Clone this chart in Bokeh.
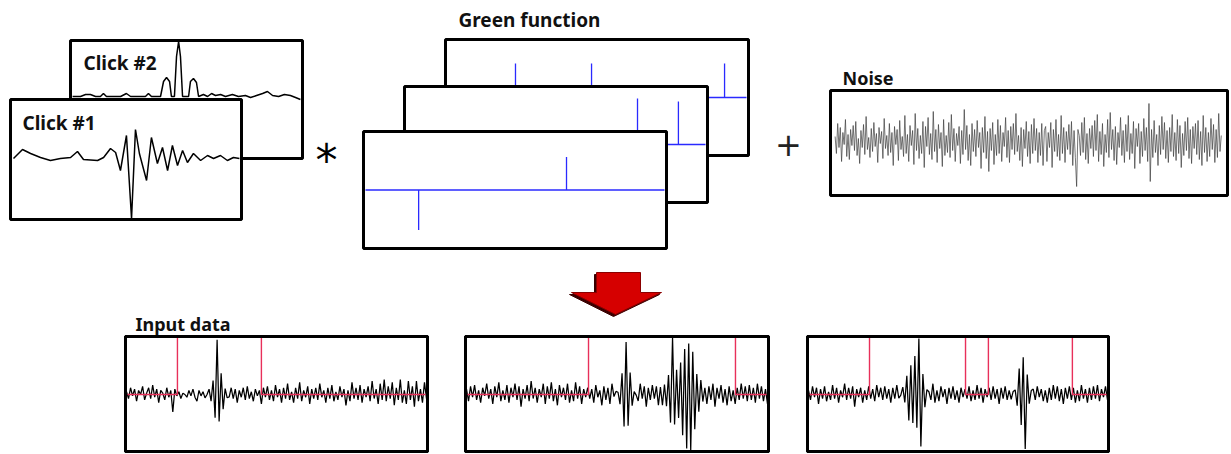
import numpy as np
from bokeh.plotting import figure
from bokeh.models import Range1d
from bokeh.embed import file_html
from bokeh.resources import INLINE
from bokeh.core.properties import value

# ---------------- data ----------------
# Click #1 waveform: time (fraction of window) and amplitude
click1_t = [0.013, 0.052, 0.087, 0.130, 0.173, 0.216, 0.260, 0.290, 0.316, 0.377, 0.403, 0.433,
            0.455, 0.476, 0.502, 0.524, 0.541, 0.558, 0.589, 0.610, 0.636, 0.658, 0.680, 0.701,
            0.723, 0.745, 0.766, 0.792, 0.823, 0.853, 0.879, 0.909, 0.939, 0.965, 0.991]
click1_v = [-1, 8, 4, 0, -3, -1, 0, 6, -2, -3, 0, 9, 5, -13, 22, -62, 28, 4, -23, 20, -6, 10, -13,
            12, -8, 7, -5, 4, -3, 2, -1, 2, -3, 0, -1]

# Click #2 waveform
click2_t = [0.009, 0.043, 0.065, 0.086, 0.108, 0.129, 0.142, 0.155, 0.216, 0.241, 0.259, 0.323,
            0.336, 0.349, 0.388, 0.401, 0.414, 0.427, 0.435, 0.448, 0.457, 0.466, 0.474, 0.483,
            0.509, 0.517, 0.530, 0.543, 0.552, 0.573, 0.591, 0.608, 0.625, 0.647, 0.668, 0.698,
            0.724, 0.754, 0.776, 0.802, 0.828, 0.849, 0.871, 0.897, 0.922, 0.948, 0.970, 0.991]
click2_v = [0, 0, 2, 2, 0, 0, 3, 0, 0, 3, 0, 0, 3, 0, 0, 15, 19, 15, 0, 0, 40, 57, 40, 0,
            0, 15, 18, 14, 0, 2, 0, 3, 1, 2, 0, 2, 0, 1, -1, 1, 3, 5, 1, 0, 2, 1, -1, -3]

# Green functions (three receivers): arrival time (fraction) and amplitude
gf_back_t = [0.231, 0.482, 0.921]
gf_back_a = [34, 34, 34]
gf_mid_t = [0.769, 0.904]
gf_mid_a = [46, 43]
gf_front_t = [0.182, 0.670]
gf_front_a = [-40, 33]

# Noise record
noise = [5, -12, 18, -6, 14, -20, 9, -3, 22, -15, 7, -18, 12, -4, 16, -9, 20, -14, 3, -22,
         11, -6, 17, -13, 25, -8, 4, -16, 13, -10, 19, -5, 8, -21, 14, -2, 10, -17, 23, -7,
         6, -14, 18, -11, 9, -24, 15, -3, 12, -19, 21, -8, 5, -15, 26, -12, 7, -20, 16, -4,
         11, -23, 28, -9, 13, -17, 6, -12, 20, -26, 15, -5, 24, -13, 8, -18, 30, -10, 12, -21,
         17, -7, 9, -25, 22, -14, 6, -11, 19, -16, 27, -9, 13, -20, 8, -4, 15, -22, 11, -13,
         32, -8, 16, -19, 7, -24, 18, -10, 12, -15, 21, -6, 9, -27, 14, -11, 25, -17, 10, -30,
         13, -9, 19, -23, 7, -14, 22, -12, 16, -20, 9, -5, 24, -16, 11, -21, 15, -8, 18, -13,
         28, -10, 6, -19, 14, -25, 12, -7, 20, -15, 10, -22, 17, -12, 23, -9, 13, -21, 9, -14,
         18, -24, 11, 15, -20, 9, -6, 19, -26, 12, -10, 22, -15, 7, -19, 26, -12, 14, -21, 10,
         -8, 17, -13, 20, -24, 11, -16, -45, 12, 6, -14, 19, -11, 24, -18, 8, -22, 13, -7, 16,
         -15, 21, -9, 27, -20, 10, -13, 18, -25, 7, -11, 22, -16, 29, -8, 12, -19, 15, -23, 9,
         -6, 24, -14, 11, -21, 17, -10, 26, -18, 8, -12, 20, -27, 13, -5, 18, -22, 10, -15, 23,
         -9, 14, -20, 38, -40, 12, -16, 21, -11, 7, -24, 16, -13, 25, -8, 19, -17, 11, -21, 14,
         -10, 27, -15, 9, -19, 22, -12, 16, -26, 8, -14, 20, -9, 24, -17, 12, -22, 15, -7, 18,
         -13, 21, -18, 10, -24, 26, -11, 14, -20, 9, -15, 23, -8, 17, -21, 12, -16, 28, -10, 6]

# Input data: background noise, click bursts (start sample) and detection gates
in1_noise = [2, -3, 5, -1, 4, -5, 3, 0, 6, -4, 1, 5, -3, 7, -2, 4, -6, 3, 1, -4,
             5, -2, 3, -13, 4, -1, 2, -3, 1, 0, -2, 3, -1, 4, -2, -5, 3, -1, 2, -4,
             3, -2, 4, -3, 2, -1, 3, -2, 1, -3, 2, -4, 5, -3, 4, -6, 3, -2, 5, -4,
             6, -3, 2, -5, 4, -1, 3, -7, 5, -2, 6, -4, 3, -5, 7, -2, 4, -6, 5, -3,
             8, -4, 2, -6, 5, -3, 9, -5, 3, -2, 6, -7, 4, -3, 5, -4, 8, -2, 3, -6,
             5, -3, 7, -5, 2, -4, 6, -2, 4, -8, 3, -5, 9, -3, 5, -4, 7, -6, 4, -2,
             6, -5, 10, -3, 4, -7, 8, -4, 11, -5, 6, -3, 9, -8, 5, -4, 11, -6, 3, -7,
             10, -4, 6, -9, 10, -5, 4, -6, 9, -3]
in1_bursts = [[2, -4, 8, -12, 18, -26, 56, -31, 24, -16, 10, -6, 3]]
in1_starts = [39]
in1_gates = [[0.172, 0.450]]

in2_noise = [4, -5, 6, -2, 7, -4, 3, -6, 5, -1, 8, -3, 4, -7, 6, -2, 9, -5, 3, -4,
             7, -6, 5, -2, 8, -4, 6, -9, 4, -3, 7, -5, 10, -3, 5, -6, 4, -2, 8, -7,
             6, -3, 9, -5, 4, -8, 7, -2, 5, -4, 8, -6, 3, -5, 9, -3, 6, -7, 4, -2,
             5, -3, 4, -6, 7, -2, 3, -8, 6, -4, 5, -7, 8, -3, 6, -5, 4, -2, 3, -4,
             2, -3, 5, -6, 4, -7, 8, -3, 6, -9, 5, -4, 7, -3, 6, -8, 4, -5, 3, -2,
             4, -6, 5, -3, 2, -4, 3, -5, 4, -6, 3, -2, 5, -8, 4, -6, 7, -3, 5, -7,
             6, -4, 8, -9, 5, -3, 7, -6, 4, -8, 6, -5, 3, -7, 5, -4, 8, -3, 6, -5,
             7, -4, 5, -6, 8, -3, 6, -5, 4, -7]
in2_bursts = [[2, -5, 9, -15, 24, -36, 58, -34, 26, -18, 11, -6, 3],
              [2, -4, 6, -9, 14, -20, 58, -26, 22, -18, 28, -34, 40, -46, 47, -60, 36, -24, 15, -9, 5, -3]]
in2_starts = [73, 96]
in2_gates = [[0.406, 0.891]]

in3_noise = [3, -4, 6, -2, 5, -7, 4, -3, 6, -5, 2, -4, 7, -3, 5, -6, 3, -2, 8, -4,
             5, -3, 6, -9, 4, -2, 5, -6, 3, -4, 6, -3, 4, -5, 7, -2, 5, -4, 6, -3,
             4, -6, 5, -3, 7, -5, 4, -2, 6, -4, 3, -5, 7, -4, 5, -3, 6, -7, 4, -3,
             5, -4, 8, -6, 3, -5, 6, -2, 4, -7, 5, -3, 6, -4, 3, -6, 5, -2, 4, -3,
             6, -5, 3, -4, 7, -3, 5, -6, 4, -2, 5, -4, 6, -3, 4, -7, 5, -3, 6, -4,
             3, -5, 6, -4, 5, -3, 7, -5, 4, -6, 5, -3, 7, -4, 6, -2, 4, -5, 3, -6,
             5, -4, 7, -3, 6, -5, 4, -7, 5, -3, 6, -4, 5, -6, 3, -5, 7, -3, 4, -6,
             5, -4, 6, -3, 7, -5, 4, -2, 6, -4]
in3_bursts = [[3, -6, 10, -16, 24, -30, 36, -38, 44, -40, 60, -60, 30, -18, 9, -4],
              [2, -5, 10, -18, 30, -40, 44, -60, 28, -16, 8, -4]]
in3_starts = [45, 101]
in3_gates = [[0.206, 0.525], [0.601, 0.880]]

# ---------------- layout (panel boxes: left, top, right, bottom) ----------------
BOX_CLICK2 = (70, 40, 302, 158)
BOX_CLICK1 = (10, 99, 241, 219)
BOX_GF = [(445, 39, 748, 155), (404, 86, 707, 202), (363, 131, 666, 248)]
BOX_NOISE = (830, 90, 1227, 195)
BOX_IN = [(125, 336, 427, 451), (465, 336, 768, 451), (807, 336, 1108, 451)]
NOISE_GAIN = 1.35

FONT = value("Noto Sans")
BLUE = "#2a2aff"
RED = "#e8305a"

p = figure(width=1231, height=454, x_range=Range1d(0, 1231), y_range=Range1d(454, 0),
           output_backend="svg", toolbar_location=None, min_border=0)
p.axis.visible = False
p.grid.visible = False
p.outline_line_color = None
p.background_fill_color = "white"
p.border_fill_color = "white"


def box(b, lw=3):
    l, t, r, bt = b
    p.quad(left=[l], right=[r], top=[t], bottom=[bt], fill_color="white",
           line_color="black", line_width=lw)


def label(x, y, s, size="19px"):
    p.text(x=[x], y=[y], text=[s], text_font=FONT, text_font_style="bold",
           text_font_size=size, text_baseline="middle", text_align="left", text_color="#111111")


def wave(b, base, t, v, color="black", lw=1.5, alpha=1.0):
    l, tp, r, bt = b
    x = l + np.asarray(t, float) * (r - l)
    y = np.clip(base - np.asarray(v, float), tp + 1, bt - 1)
    p.line(x, y, line_color=color, line_width=lw, line_alpha=alpha)


# ---- clicks ----
box(BOX_CLICK2)
wave(BOX_CLICK2, 96, click2_t, click2_v, lw=1.5)
label(83, 62, "Click #2")
box(BOX_CLICK1)
wave(BOX_CLICK1, 157, click1_t, click1_v, lw=1.5)
label(22, 122, "Click #1")

# ---- operator symbols ----
p.text(x=[315], y=[160], text=["*"], text_font=value("DejaVu Sans"), text_font_size="44px",
       text_baseline="alphabetic", text_align="left", text_color="black")
p.text(x=[788], y=[144], text=["+"], text_font=value("DejaVu Sans"), text_font_size="32px",
       text_baseline="middle", text_align="center", text_color="#222222")

# ---- Green functions ----
label(458, 19, "Green function")
gf_sets = [(gf_back_t, gf_back_a), (gf_mid_t, gf_mid_a), (gf_front_t, gf_front_a)]
for b, (tt, aa) in zip(BOX_GF, gf_sets):
    box(b)
    l, tp, r, bt = b
    base = tp + 0.5 * (bt - tp)
    p.line([l + 2, r - 2], [base, base], line_color=BLUE, line_width=1.3)
    xs = l + np.asarray(tt) * (r - l)
    p.segment(x0=xs, y0=[base] * len(xs), x1=xs, y1=base - np.asarray(aa, float),
              line_color=BLUE, line_width=1.3)

# ---- noise ----
label(842, 77, "Noise", size="18px")
box(BOX_NOISE)
nt = (np.arange(len(noise)) + 0.5) / len(noise) * 0.976 + 0.01
wave(BOX_NOISE, 141, nt, noise, color="#404040", lw=0.8, alpha=0.9)

# ---- arrow ----
ax = [596, 640, 640, 661, 615, 571, 596]
ay = [272, 272, 292, 292, 314, 292, 292]
p.patch([v - 2 for v in ax], [v + 2 for v in ay], fill_color="#3a0000", line_color="#3a0000")
p.patch(ax, ay, fill_color="#d60000", line_color="#8a0000", line_width=1)

# ---- input data ----
label(135, 323, "Input data", size="18px")
inputs = [(in1_noise, in1_bursts, in1_starts, in1_gates),
          (in2_noise, in2_bursts, in2_starts, in2_gates),
          (in3_noise, in3_bursts, in3_starts, in3_gates)]
for b, (nz, bursts, starts, gates) in zip(BOX_IN, inputs):
    box(b)
    l, tp, r, bt = b
    base = 394
    sig = np.asarray(nz, float) * NOISE_GAIN
    for bb, s0 in zip(bursts, starts):
        sig[s0:s0 + len(bb)] += np.asarray(bb, float)
    t = (np.arange(len(sig)) + 0.5) / len(sig)
    wave(b, base, t, sig, color="black", lw=1.25)
    gx = [l + 2]
    gy = [base]
    for g0, g1 in gates:
        x0 = l + g0 * (r - l)
        x1 = l + g1 * (r - l)
        gx += [x0, x0, x1, x1]
        gy += [base, tp, tp, base]
    gx.append(r - 2)
    gy.append(base)
    p.line(gx, gy, line_color=RED, line_width=1.4)
    # redraw border on top
    p.quad(left=[l], right=[r], top=[tp], bottom=[bt], fill_color=None,
           line_color="black", line_width=3)

open("out.html", "w").write(file_html(p, INLINE))
